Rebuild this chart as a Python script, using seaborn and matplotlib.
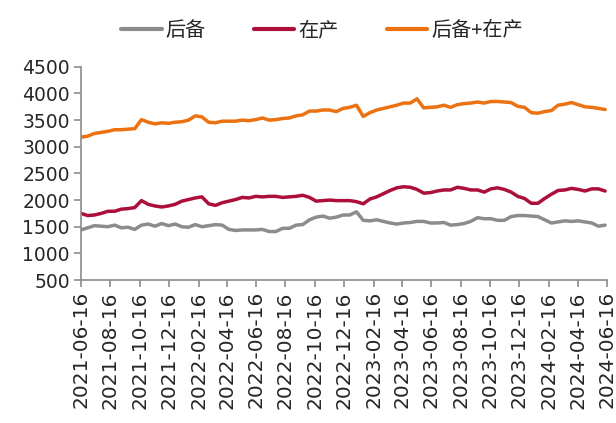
import pandas as pd
import matplotlib
matplotlib.use('Agg')
import matplotlib.pyplot as plt
import matplotlib.dates as mdates
import seaborn as sns

# 每两周一个数据点
dates = pd.date_range('2021-06-16', periods=79, freq='14D')

houbei = [1440, 1480, 1520, 1510, 1500, 1530, 1480, 1490, 1450, 1530,
          1550, 1510, 1560, 1520, 1550, 1500, 1490, 1540, 1500, 1520,
          1540, 1530, 1450, 1430, 1440, 1440, 1440, 1450, 1410, 1410,
          1470, 1470, 1530, 1540, 1630, 1680, 1700, 1660, 1680, 1720,
          1720, 1780, 1620, 1610, 1630, 1600, 1570, 1550, 1570, 1580,
          1600, 1600, 1570, 1570, 1580, 1530, 1540, 1560, 1600, 1670,
          1650, 1650, 1620, 1620, 1690, 1710, 1710, 1700, 1690, 1630,
          1570, 1590, 1610, 1600, 1610, 1590, 1570, 1510, 1530]

zaichan = [1750, 1710, 1720, 1750, 1790, 1790, 1830, 1840, 1860, 1990,
           1920, 1890, 1870, 1890, 1920, 1980, 2010, 2040, 2060, 1930,
           1900, 1950, 1980, 2010, 2050, 2040, 2070, 2060, 2070, 2070,
           2050, 2060, 2070, 2090, 2050, 1980, 1990, 2000, 1990, 1990,
           1990, 1970, 1930, 2020, 2060, 2120, 2180, 2230, 2250, 2240,
           2200, 2130, 2140, 2170, 2190, 2190, 2240, 2220, 2190, 2190,
           2150, 2210, 2230, 2200, 2150, 2070, 2030, 1940, 1940, 2030,
           2110, 2180, 2190, 2220, 2200, 2170, 2210, 2210, 2170]

heji = [3180, 3200, 3250, 3270, 3290, 3320, 3320, 3330, 3340, 3510,
        3460, 3430, 3450, 3440, 3460, 3470, 3500, 3580, 3560, 3460,
        3450, 3480, 3480, 3480, 3500, 3490, 3510, 3540, 3500, 3510,
        3530, 3540, 3580, 3600, 3670, 3670, 3690, 3690, 3660, 3720,
        3740, 3780, 3570, 3640, 3690, 3720, 3750, 3780, 3820, 3820,
        3900, 3730, 3740, 3750, 3780, 3740, 3790, 3810, 3820, 3840,
        3820, 3850, 3850, 3840, 3830, 3760, 3740, 3640, 3630, 3660,
        3680, 3780, 3800, 3830, 3790, 3750, 3740, 3720, 3700]

series_names = ['后备', '在产', '后备+在产']
colors = ['#8c8c8c', '#ab0f3a', '#ec7211']

df = pd.DataFrame({'date': dates, '后备': houbei, '在产': zaichan, '后备+在产': heji})
df_long = df.melt(id_vars='date', var_name='类型', value_name='数量')

sns.set_style('white')
plt.rcParams['font.family'] = ['Noto Sans CJK SC', 'DejaVu Sans']

fig = plt.figure(figsize=(6.16, 4.23), dpi=100)
ax = fig.add_axes([0.1315, 0.338, 0.854, 0.504])

sns.lineplot(data=df_long, x='date', y='数量', hue='类型', hue_order=series_names,
             palette=colors, linewidth=2.5, ax=ax, legend=False)

# 坐标轴
ax.set_ylim(500, 4500)
ax.set_yticks(range(500, 4501, 500))
ax.set_xlim(pd.Timestamp('2021-06-16'), pd.Timestamp('2024-06-16'))
xticks = pd.date_range('2021-06-01', '2024-06-01', freq='2MS') + pd.Timedelta(days=15)
ax.set_xticks(xticks)
ax.xaxis.set_major_formatter(mdates.DateFormatter('%Y-%m-%d'))
plt.setp(ax.get_xticklabels(), rotation=90, fontsize=14.5, family='DejaVu Sans')
plt.setp(ax.get_yticklabels(), fontsize=13.5, family='DejaVu Sans')
ax.set_xlabel('')
ax.set_ylabel('')

sns.despine(ax=ax)
for s in ['left', 'bottom']:
    ax.spines[s].set_color('#8c8c8c')
    ax.spines[s].set_linewidth(1.2)
ax.tick_params(axis='both', direction='out', length=5, width=1.2, color='#8c8c8c',
               bottom=True, left=True, pad=3)

# 图例
handles = [plt.Line2D([], [], color=c, lw=3) for c in colors]
fig.legend(handles, series_names, loc='upper center', bbox_to_anchor=(0.523, 0.995),
           ncol=3, frameon=False, fontsize=14.5, handlelength=2.0, handletextpad=0.2,
           columnspacing=2.4)

fig.savefig('out.png', dpi=100)
